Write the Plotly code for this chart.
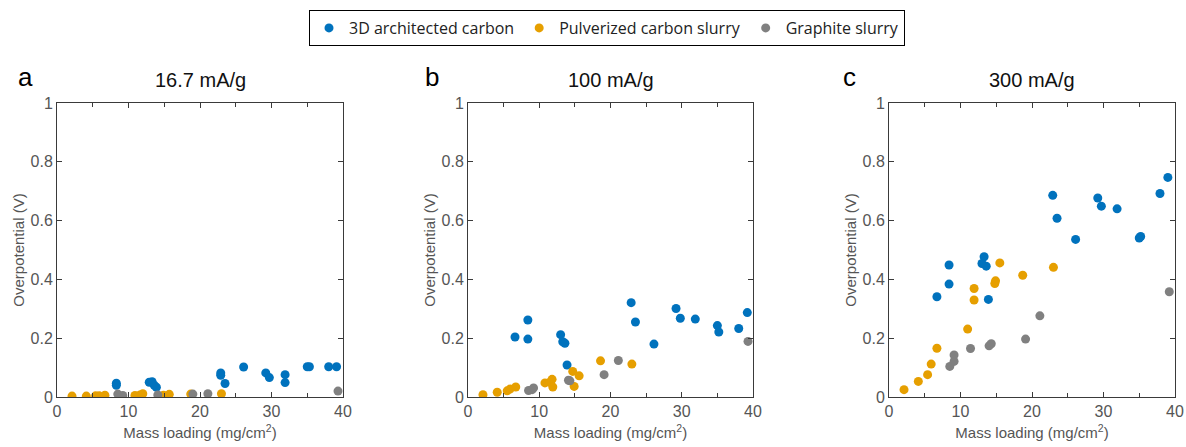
import plotly.graph_objects as go

W, H = 1186, 447

series_names = ["3D architected carbon", "Pulverized carbon slurry", "Graphite slurry"]
series_colors = ["#0072BD", "#E69F00", "#808080"]

panel_titles = ["16.7 mA/g", "100 mA/g", "300 mA/g"]
panel_letters = ["a", "b", "c"]

# Panel a (16.7 mA/g)
a_blue_x = [8.3, 8.3, 12.9, 13.3, 13.6, 13.9, 22.9, 22.9, 23.5, 26.1, 29.2, 29.7, 31.9, 31.9, 35.0, 35.3, 38.0, 39.1]
a_blue_y = [0.047, 0.040, 0.050, 0.052, 0.040, 0.033, 0.082, 0.074, 0.046, 0.102, 0.082, 0.066, 0.076, 0.049, 0.103, 0.103, 0.103, 0.103]
a_orange_x = [2.1, 4.1, 5.4, 5.9, 6.7, 10.9, 11.6, 12.0, 14.9, 15.7, 18.7, 23.0]
a_orange_y = [0.003, 0.003, 0.004, 0.004, 0.006, 0.005, 0.007, 0.011, 0.006, 0.009, 0.010, 0.011]
a_gray_x = [8.5, 9.2, 14.1, 19.0, 21.1, 39.3]
a_gray_y = [0.010, 0.005, 0.007, 0.010, 0.011, 0.020]

# Panel b (100 mA/g)
b_blue_x = [6.6, 8.4, 8.4, 13.0, 13.3, 13.6, 13.9, 22.9, 23.5, 26.1, 29.2, 29.8, 31.9, 35.0, 35.2, 38.0, 39.2]
b_blue_y = [0.204, 0.262, 0.197, 0.212, 0.188, 0.183, 0.109, 0.321, 0.255, 0.180, 0.301, 0.268, 0.265, 0.243, 0.221, 0.233, 0.287]
b_orange_x = [2.1, 4.1, 5.5, 5.9, 6.7, 10.8, 11.5, 11.8, 11.9, 14.7, 14.9, 15.6, 18.6, 23.0]
b_orange_y = [0.008, 0.016, 0.021, 0.027, 0.034, 0.048, 0.050, 0.060, 0.034, 0.087, 0.036, 0.072, 0.123, 0.112]
b_gray_x = [8.5, 9.0, 9.2, 14.1, 14.3, 19.1, 21.1, 39.3]
b_gray_y = [0.022, 0.025, 0.031, 0.057, 0.055, 0.076, 0.124, 0.189]

# Panel c (300 mA/g)
c_blue_x = [6.7, 8.4, 8.4, 13.0, 13.3, 13.6, 13.9, 22.9, 23.5, 26.1, 29.2, 29.7, 31.9, 35.0, 35.2, 37.9, 39.0]
c_blue_y = [0.341, 0.449, 0.384, 0.454, 0.477, 0.445, 0.332, 0.686, 0.608, 0.536, 0.677, 0.649, 0.640, 0.541, 0.546, 0.692, 0.747]
c_orange_x = [2.1, 4.1, 5.4, 5.9, 6.7, 11.0, 11.9, 11.9, 14.8, 14.9, 15.5, 18.7, 23.0]
c_orange_y = [0.025, 0.053, 0.076, 0.112, 0.166, 0.231, 0.369, 0.330, 0.386, 0.395, 0.456, 0.414, 0.441]
c_gray_x = [8.5, 9.1, 9.1, 11.4, 14.0, 14.3, 19.1, 21.1, 39.2]
c_gray_y = [0.104, 0.121, 0.143, 0.165, 0.174, 0.181, 0.197, 0.276, 0.358]

x_ticks = [0, 10, 20, 30, 40]
y_ticks = [0, 0.2, 0.4, 0.6, 0.8, 1]

panels = [
    [(a_blue_x, a_blue_y), (a_orange_x, a_orange_y), (a_gray_x, a_gray_y)],
    [(b_blue_x, b_blue_y), (b_orange_x, b_orange_y), (b_gray_x, b_gray_y)],
    [(c_blue_x, c_blue_y), (c_orange_x, c_orange_y), (c_gray_x, c_gray_y)],
]

# plot-area pixel boxes (left, right) ; common top/bottom
px_left = [57, 468, 889]
px_right = [343, 753, 1175]
px_top, px_bottom = 103, 397

fig = go.Figure()
axis_font = "Liberation Sans"
frame_col = "#3a3a3a"
tick_col = "#555555"

for i, data in enumerate(panels):
    xa = "x" if i == 0 else f"x{i+1}"
    ya = "y" if i == 0 else f"y{i+1}"
    for s, (xs, ys) in enumerate(data):
        fig.add_trace(go.Scatter(
            x=xs, y=ys, mode="markers", xaxis=xa, yaxis=ya,
            name=series_names[s], legendgroup=series_names[s], showlegend=(i == 0),
            marker=dict(color=series_colors[s], size=9, line=dict(width=0)),
        ))
    xkey = "xaxis" if i == 0 else f"xaxis{i+1}"
    ykey = "yaxis" if i == 0 else f"yaxis{i+1}"
    common = dict(
        showline=True, linecolor=frame_col, linewidth=1, mirror="ticks",
        ticks="inside", ticklen=5, tickcolor=frame_col, tickwidth=1,
        showgrid=False, zeroline=False, automargin=False,
        tickfont=dict(family=axis_font, size=16, color=tick_col),
        title_font=dict(family=axis_font, size=15, color=tick_col),
    )
    fig.update_layout({
        xkey: dict(
            domain=[px_left[i] / W, px_right[i] / W], anchor=ya, range=[0, 40],
            tickvals=x_ticks, ticktext=[str(v) for v in x_ticks],
            minor=dict(dtick=5, ticks="inside", ticklen=4, tickcolor=frame_col, showgrid=False),
            title=dict(text="Mass loading (mg/cm<sup>2</sup>)", standoff=8),
            **common,
        ),
        ykey: dict(
            domain=[1 - px_bottom / H, 1 - px_top / H], anchor=xa, range=[0, 1],
            tickvals=y_ticks, ticktext=["0", "0.2", "0.4", "0.6", "0.8", "1"],
            title=dict(text="Overpotential (V)", standoff=2),
            **common,
        ),
    })
    cx = (px_left[i] + px_right[i]) / 2 / W
    fig.add_annotation(text=panel_titles[i], x=cx, y=1 - 80 / H, xref="paper", yref="paper",
                       showarrow=False, xanchor="center", yanchor="middle",
                       font=dict(family=axis_font, size=20, color="#111111"))

letter_x = [25, 432, 849]
for i, t in enumerate(panel_letters):
    fig.add_annotation(text=t, x=letter_x[i] / W, y=1 - 77 / H, xref="paper", yref="paper",
                       showarrow=False, xanchor="center", yanchor="middle",
                       font=dict(family=axis_font, size=26, color="#000000"))

fig.update_layout(
    width=W, height=H,
    margin=dict(l=0, r=0, t=0, b=0, autoexpand=False),
    paper_bgcolor="white", plot_bgcolor="white",
    showlegend=True,
    legend=dict(
        orientation="h", x=607 / W, xanchor="center", y=1 - 10 / H, yanchor="top",
        bordercolor="#000000", borderwidth=1, bgcolor="white",
        font=dict(family="Open Sans", size=16, color="#222222"),
        itemwidth=30, tracegroupgap=0,
    ),
)

fig.write_html("out.html")
